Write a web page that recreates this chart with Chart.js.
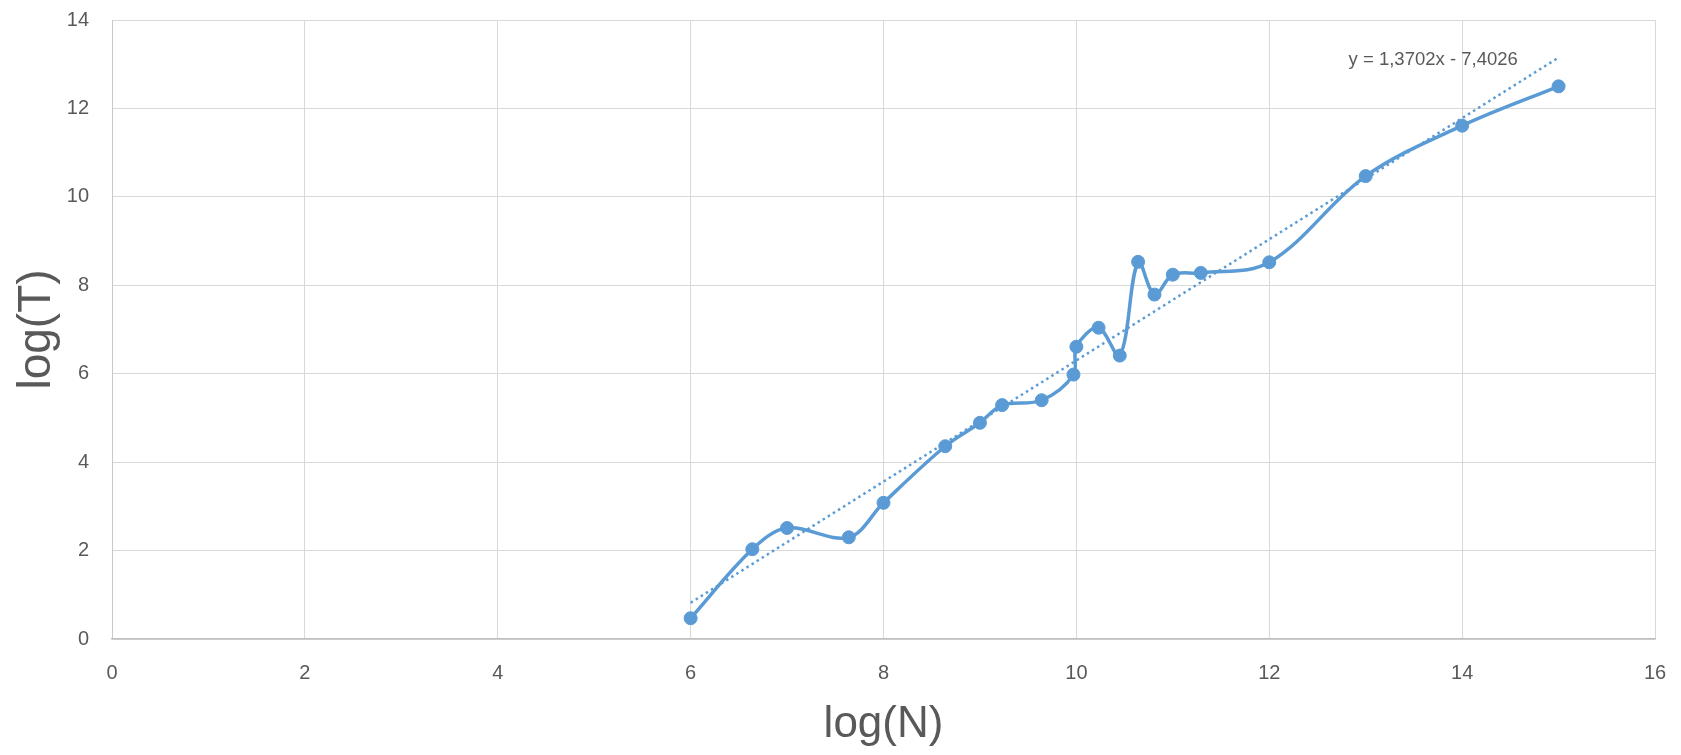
<!DOCTYPE html>
<html>
<head>
<meta charset="utf-8">
<script src="https://cdn.jsdelivr.net/npm/chart.js@4/dist/chart.umd.min.js"></script>
<style>
  html, body { margin: 0; padding: 0; background: #ffffff; }
  #wrap { width: 1681px; height: 755px; position: relative; }
</style>
</head>
<body>
<div id="wrap"><canvas id="c"></canvas></div>
<script>
// ---- data ----
const logN = [6, 6.64, 7, 7.64, 8, 8.64, 9, 9.23, 9.64, 9.97, 10, 10.23, 10.45, 10.64, 10.81, 11, 11.29, 12, 13, 14, 15];
const logT = [0.47, 2.03, 2.51, 2.30, 3.08, 4.36, 4.89, 5.29, 5.40, 5.98, 6.61, 7.04, 6.41, 8.53, 7.79, 8.24, 8.28, 8.52, 10.47, 11.61, 12.50];
const trendX = [6, 15];
const trendY = [0.82, 13.15];
const trendLabel = "y = 1,3702x - 7,4026";
const xTicks = [0, 2, 4, 6, 8, 10, 12, 14, 16];
const yTicks = [0, 2, 4, 6, 8, 10, 12, 14];
const xTitle = "log(N)";
const yTitle = "log(T)";

// ---- style ----
const BLUE = '#5B9BD5';
const TXT = '#595959';
const GRID = '#d9d9d9';
const FONT = "'Liberation Sans', Arial, sans-serif";
const labelAnchor = { x: 13.7, y: 13.1 };

const mainPts = logN.map((x, i) => ({ x: x, y: logT[i] }));
const trendPts = trendX.map((x, i) => ({ x: x, y: trendY[i] }));

const eqLabel = {
  id: 'eqLabel',
  afterDatasetsDraw(chart) {
    const { ctx, scales } = chart;
    const px = scales.x.getPixelForValue(labelAnchor.x);
    const py = scales.y.getPixelForValue(labelAnchor.y);
    ctx.save();
    ctx.font = "18.5px " + FONT;
    ctx.fillStyle = TXT;
    ctx.textAlign = 'center';
    ctx.textBaseline = 'middle';
    ctx.fillText(trendLabel, px, py);
    ctx.restore();
  }
};

new Chart(document.getElementById('c'), {
  type: 'scatter',
  data: {
    datasets: [
      {
        label: 'trend',
        data: trendPts,
        showLine: true,
        borderColor: BLUE,
        borderWidth: 2.5,
        borderDash: [2.5, 3.5],
        pointRadius: 0,
        fill: false,
        tension: 0,
        order: 2
      },
      {
        label: 'log(T)',
        data: mainPts,
        showLine: true,
        borderColor: BLUE,
        backgroundColor: BLUE,
        borderWidth: 3.5,
        pointRadius: 6.5,
        pointBackgroundColor: BLUE,
        pointBorderColor: BLUE,
        pointBorderWidth: 1,
        tension: 0.35,
        fill: false,
        order: 1
      }
    ]
  },
  options: {
    responsive: true,
    maintainAspectRatio: false,
    animation: false,
    devicePixelRatio: 1,
    layout: { padding: { left: 0, right: 26, top: 20, bottom: 0 } },
    plugins: {
      legend: { display: false },
      tooltip: { enabled: false }
    },
    scales: {
      x: {
        type: 'linear',
        min: 0, max: 16,
        afterBuildTicks(scale) { scale.ticks = xTicks.map(v => ({ value: v })); },
        afterFit(scale) {
          scale.height = 116;
          scale.paddingLeft = 0; scale.paddingRight = 0;
        },
        grid: { color: GRID, lineWidth: 1, drawTicks: false },
        border: { color: '#bfbfbf', width: 1.5 },
        ticks: { color: TXT, font: { family: FONT, size: 20 }, padding: 22 },
        title: {
          display: true, text: xTitle, color: TXT,
          font: { family: FONT, size: 44 },
          padding: { top: 0, bottom: 4 }
        }
      },
      y: {
        type: 'linear',
        min: 0, max: 14,
        afterBuildTicks(scale) { scale.ticks = yTicks.map(v => ({ value: v })); },
        afterFit(scale) {
          scale.width = 112;
          scale.paddingTop = 0; scale.paddingBottom = 0;
        },
        grid: { color: GRID, lineWidth: 1, drawTicks: false },
        border: { color: '#c8c8c8', width: 1 },
        ticks: { color: TXT, font: { family: FONT, size: 20 }, padding: 23 },
        title: {
          display: true, text: yTitle, color: TXT,
          font: { family: FONT, size: 46 },
          padding: { top: 10, bottom: 0 }
        }
      }
    }
  },
  plugins: [eqLabel]
});
</script>
</body>
</html>
